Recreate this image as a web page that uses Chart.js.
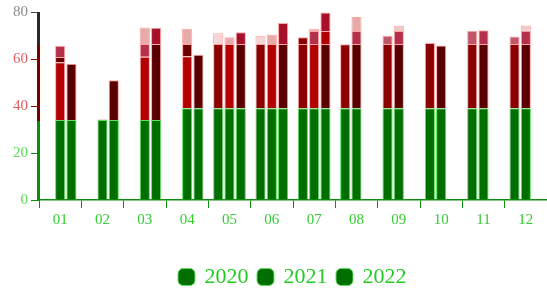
<!DOCTYPE html>
<html>
<head>
<meta charset="utf-8">
<script src="https://cdn.jsdelivr.net/npm/chart.js@4/dist/chart.umd.min.js"></script>
<style>
  html, body { margin: 0; padding: 0; background: #fff; }
  #wrap { width: 547px; height: 291px; }
</style>
</head>
<body>
<div id="wrap"><canvas id="barChart"></canvas></div>
<script>
const months = ['01', '02', '03', '04', '05', '06', '07', '08', '09', '10', '11', '12'];
const years = ['2020', '2021', '2022'];
const yTicks = [0, 20, 40, 60, 80];

// green base of each bar
const base2020 = [null, null, null, null, 39, 39, 39, 39, 39, 39, 39, 39];
const base2021 = [34, 34, 34, 39, 39, 39, 39, 39, 39, 39, 39, 39];
const base2022 = [34, 34, 34, 39, 39, 39, 39, null, null, null, null, null];

// main red part
const main2020 = [null, null, null, null, 27.4, 27.4, 27.4, 27.3, 27.4, 27.8, 27.4, 27.4];
const main2021 = [24.6, 0.3, 27, 22.2, 27.4, 27.4, 27.4, 27.4, 27.4, 26.7, 27.4, 27.4];
const main2022 = [24, 17, 32.4, 22.8, 27.4, 27.4, 27.4, null, null, null, null, null];

// upper parts
const top2020 = [null, null, null, null, 4.6, 3.5, 2.9, null, 3.5, null, 5.6, 3.2];
const top2021 = [2.2, null, 5.4, 5.2, 2.9, 4, 5.5, 5.5, 5.5, null, 5.8, 5.6];
const top2022 = [null, null, 6.9, null, 5, 8.9, 5.5, null, null, null, null, null];
const cap2021 = [4.8, null, 7, 6.5, null, null, 1, 6, 2.3, null, null, 2.3];
const cap2022 = [null, null, null, null, null, null, 7.9, null, null, null, null, null];

// y axis line bands
const axisBands = [0, 34, 66.4, 80];

// colours
const green = '#006f00';
const greenEdge = '#5ee05e';
const redEdge = 'rgba(255,150,150,0.85)';
const crimson = '#b5304a';
const pink = '#e8a9a9';
const pale = '#f5d6d6';
const rose = '#c0566a';
const wine = '#a8102a';

const mainCol2020 = '#8b0000';
const mainCol2021 = months.map((m, i) => i < 7 ? '#b40000' : '#5a0000');
const mainCol2022 = '#5a0000';
const topCol2020 = [pale, pale, pale, pale, pale, pale, '#8b0000', rose, rose, rose, rose, rose];
const topCol2021 = ['#6e0000', crimson, crimson, '#6e0000', pink, pink, crimson, crimson, crimson, crimson, crimson, crimson];
const topCol2022 = [wine, wine, wine, wine, wine, wine, '#b00000', wine, wine, wine, wine, wine];
const capCol2021 = [crimson, pink, pink, pink, pink, pink, '#eab4b4', pink, '#f0c8c8', pink, pink, '#f0c8c8'];
const capCol2022 = wine;

const serif = "'Liberation Serif', 'DejaVu Serif', serif";

function seg(label, stack, data, color, edge, isBase) {
  return {
    label: label,
    stack: stack,
    data: data,
    backgroundColor: color,
    borderColor: edge,
    borderWidth: 1,
    isBase: isBase
  };
}

const datasets = [
  seg('2020', '2020', base2020, green, greenEdge, true),
  seg('2021', '2021', base2021, green, greenEdge, true),
  seg('2022', '2022', base2022, green, greenEdge, true),
  seg('a2020', '2020', main2020, mainCol2020, redEdge),
  seg('a2021', '2021', main2021, mainCol2021, redEdge),
  seg('a2022', '2022', main2022, mainCol2022, redEdge),
  seg('b2020', '2020', top2020, topCol2020, redEdge),
  seg('b2021', '2021', top2021, topCol2021, redEdge),
  seg('b2022', '2022', top2022, topCol2022, redEdge),
  seg('c2021', '2021', cap2021, capCol2021, redEdge),
  seg('c2022', '2022', cap2022, capCol2022, redEdge)
];

const tickColor = v => v >= 80 ? '#8a8a8a' : (v >= 40 ? '#e06060' : '#55dd55');
const markColor = v => v >= 80 ? '#444' : (v >= 40 ? '#8b0000' : '#108a10');

// y axis line drawn in three coloured pieces
const yAxisLine = {
  id: 'yAxisLine',
  afterDraw(chart) {
    const sy = chart.scales.y;
    const c = chart.ctx;
    const left = chart.chartArea.left;
    const cols = ['#0d8d0d', '#760000', '#2a2a2a'];
    c.save();
    for (let i = 0; i < axisBands.length - 1; i++) {
      const y0 = sy.getPixelForValue(axisBands[i]);
      const y1 = sy.getPixelForValue(axisBands[i + 1]);
      c.fillStyle = cols[i];
      c.fillRect(left - 2, y1, 3, y0 - y1 + 1);
    }
    c.restore();
  }
};

new Chart(document.getElementById('barChart').getContext('2d'), {
  type: 'bar',
  data: { labels: months, datasets: datasets },
  options: {
    responsive: true,
    maintainAspectRatio: false,
    animation: false,
    layout: { padding: { left: 10, top: 6, right: 0, bottom: -7 } },
    scales: {
      x: {
        stacked: true,
        grid: { drawOnChartArea: false, color: '#108a10', tickLength: 8 },
        border: { color: '#108a10', width: 1.5 },
        ticks: { color: '#33cc33', font: { family: serif, size: 15 }, padding: 3 },
        afterFit: axis => { axis.height = 56; }
      },
      y: {
        stacked: true,
        min: 0,
        max: 80,
        afterBuildTicks: axis => { axis.ticks = yTicks.map(v => ({ value: v })); },
        grid: {
          drawOnChartArea: false,
          tickLength: 8,
          color: c => markColor(c.tick ? c.tick.value : 0)
        },
        border: { display: false },
        ticks: {
          font: { family: serif, size: 15 },
          padding: 3,
          color: c => tickColor(c.tick.value)
        }
      }
    },
    plugins: {
      legend: {
        position: 'bottom',
        fullSize: false,
        labels: {
          usePointStyle: true,
          pointStyle: 'rectRounded',
          boxWidth: 14,
          boxHeight: 14,
          padding: 10,
          color: '#22cc22',
          font: { family: serif, size: 22 },
          filter: (item, data) => data.datasets[item.datasetIndex].isBase
        }
      },
      tooltip: { enabled: false }
    }
  },
  plugins: [yAxisLine]
});
</script>
</body>
</html>
